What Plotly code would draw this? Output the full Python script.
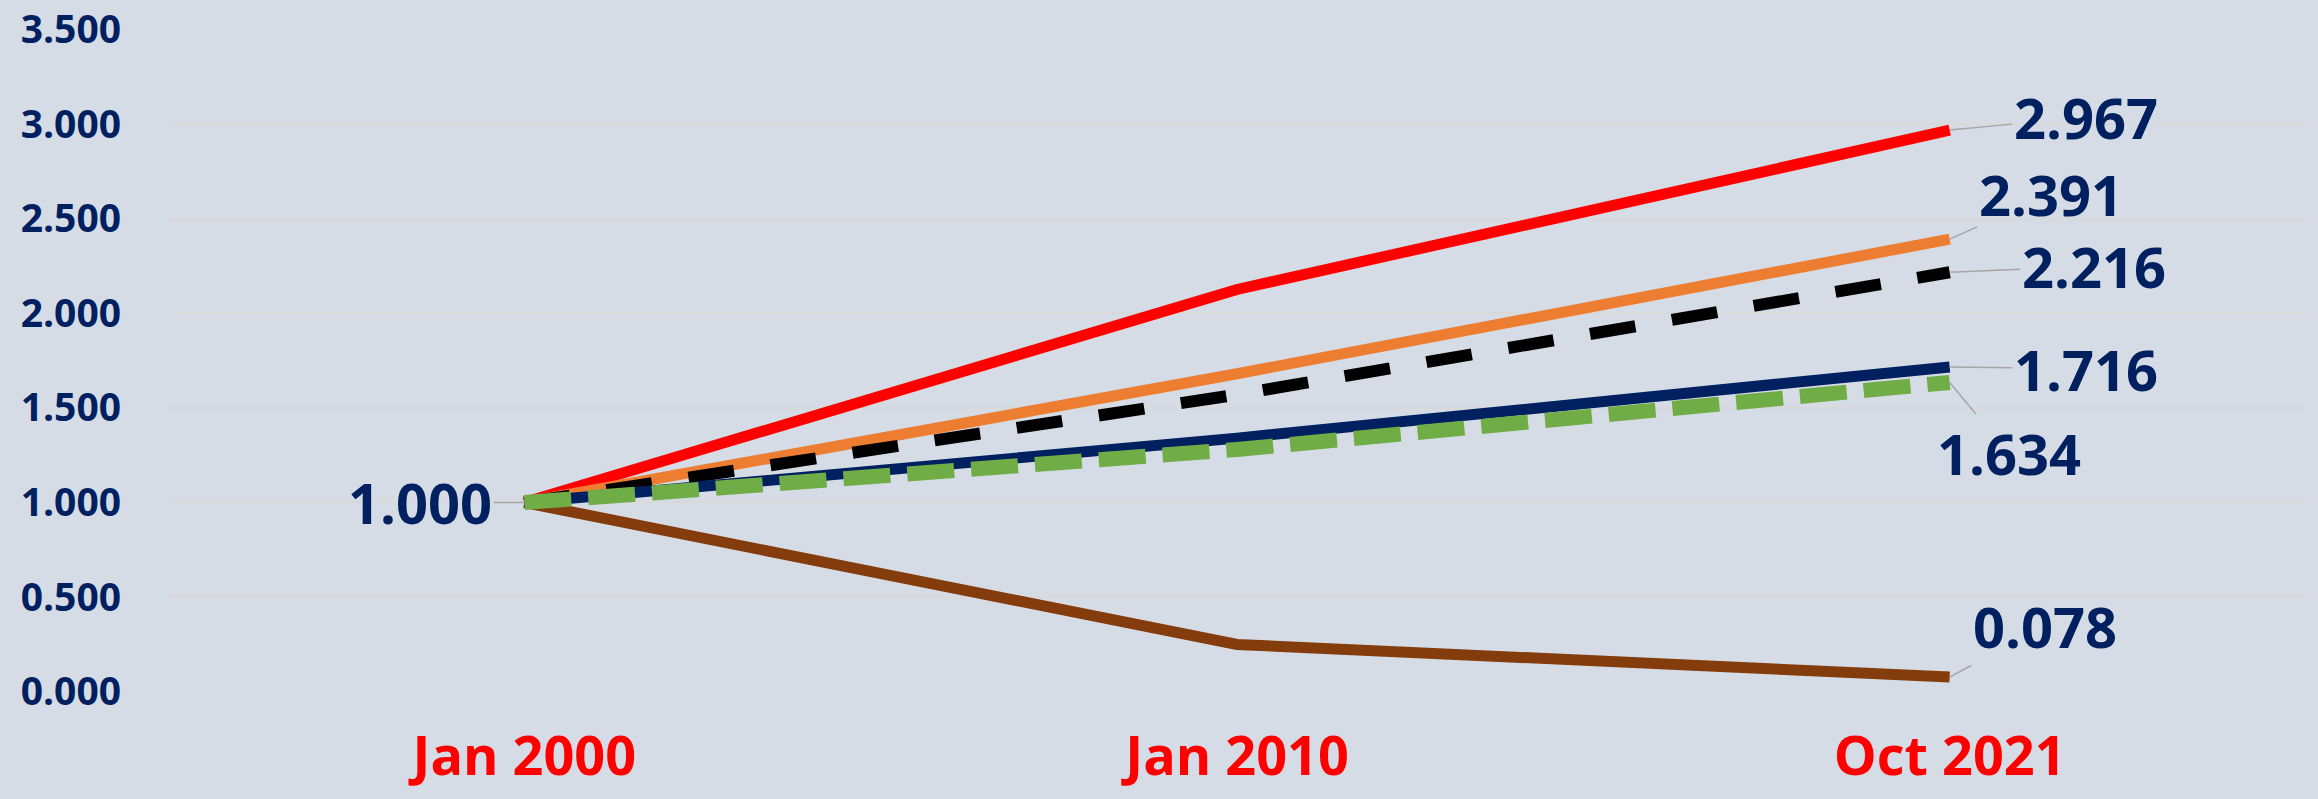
import plotly.graph_objects as go

# Index values (Jan 2000 = 1.000)
categories = ["Jan 2000", "Jan 2010", "Oct 2021"]
red_vals = [1.000, 2.125, 2.967]
orange_vals = [1.000, 1.68, 2.391]
black_vals = [1.000, 1.57, 2.216]
navy_vals = [1.000, 1.34, 1.716]
green_vals = [1.000, 1.28, 1.634]
brown_vals = [1.000, 0.25, 0.078]

y_ticks = [0.0, 0.5, 1.0, 1.5, 2.0, 2.5, 3.0, 3.5]

BG = "#D6DCE5"
NAVY = "#002060"
LABEL_FONT = "Open Sans"

fig = go.Figure()

series = [
    (brown_vals, "#843C0C", 11, "solid"),
    (red_vals, "#FF0000", 11, "solid"),
    (orange_vals, "#ED7D31", 11, "solid"),
    (black_vals, "#000000", 12, "46px,37px"),
    (navy_vals, NAVY, 11, "solid"),
    (green_vals, "#70AD47", 15, "47px,17px"),
]
for vals, color, width, dash in series:
    fig.add_trace(go.Scatter(
        x=categories, y=vals, mode="lines",
        line=dict(color=color, width=width, dash=dash),
        showlegend=False, hoverinfo="skip",
    ))

# End-point value labels with leader lines (pixel offsets from the point)
end_labels = [
    (red_vals, 136, -13),
    (orange_vals, 101, -45),
    (black_vals, 144, -6),
    (navy_vals, 136, 2),
    (green_vals, 59, 71),
    (brown_vals, 95, -51),
]
for vals, ax, ay in end_labels:
    fig.add_annotation(
        x=categories[-1], y=vals[-1], text=f"{vals[-1]:.3f}",
        showarrow=True, arrowhead=0, arrowwidth=1.5, arrowcolor="#A6A6A6",
        ax=ax, ay=ay,
        font=dict(family=LABEL_FONT, size=56, color=NAVY, weight="bold"),
    )

# Shared starting value
fig.add_annotation(
    x=categories[0], y=red_vals[0], text=f"{red_vals[0]:.3f}",
    showarrow=True, arrowhead=0, arrowwidth=1.5, arrowcolor="#A6A6A6",
    ax=-104, ay=0,
    font=dict(family=LABEL_FONT, size=56, color=NAVY, weight="bold"),
)

fig.update_layout(
    width=2318, height=799,
    margin=dict(l=168, r=12, t=29, b=107, autoexpand=False),
    paper_bgcolor=BG, plot_bgcolor=BG,
    xaxis=dict(
        type="category", range=[-0.5, 2.5], autorange=False,
        showgrid=False, zeroline=False, showline=False,
        tickfont=dict(family=LABEL_FONT, size=54, color="#FF0000", weight="bold"),
        ticklabelstandoff=28, ticklabeloverflow="allow",
    ),
    yaxis=dict(
        range=[-0.001, 3.501], autorange=False,
        tickvals=y_ticks, tickformat=".3f",
        showgrid=True, gridcolor="#D9D9D9", gridwidth=2,
        zeroline=False, showline=False,
        tickfont=dict(family=LABEL_FONT, size=39, color=NAVY, weight="bold"),
        ticklabelstandoff=46, ticklabeloverflow="allow",
    ),
)

fig.write_html("out.html")
